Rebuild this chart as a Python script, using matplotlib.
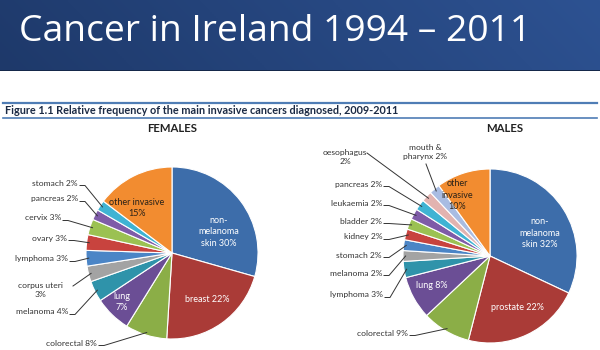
import numpy as np
import matplotlib
matplotlib.use("Agg")
import matplotlib.pyplot as plt
from matplotlib.patches import Rectangle

# ---------------- data ----------------
female_cats = ["non-melanoma skin", "breast", "colorectal", "lung", "melanoma",
               "corpus uteri", "lymphoma", "ovary", "cervix", "pancreas",
               "stomach", "other invasive"]
female_pct = [30, 22, 8, 7, 4, 3, 3, 3, 3, 2, 2, 15]

male_cats = ["non-melanoma skin", "prostate", "colorectal", "lung", "lymphoma",
             "melanoma", "stomach", "kidney", "bladder", "leukaemia", "pancreas",
             "oesophagus", "mouth & pharynx", "other invasive"]
male_pct = [32, 22, 9, 8, 3, 2, 2, 2, 2, 2, 2, 2, 2, 10]

title = "Cancer in Ireland 1994 \u2013 2011"
caption = "Figure 1.1 Relative frequency of the main invasive cancers diagnosed, 2009-2011"

# ---------------- styles ----------------
female_colors = ['#3D6DAA', '#AA3B37', '#8BAE47', '#6B4E95', '#2F93AA', '#A3A3A3',
                 '#4B85C6', '#C8433E', '#9BC152', '#7E5BA8', '#3FB3D3', '#F28C30']
male_colors = ['#3D6DAA', '#AA3B37', '#8BAE47', '#6B4E95', '#2F93AA', '#A3A3A3',
               '#4B85C6', '#C8433E', '#9BC152', '#7E5BA8', '#3FB3D3', '#E2B3B0',
               '#A9BCE2', '#F28C30']

LFONT = "Lato"
W, H = 600, 350

fig = plt.figure(figsize=(6, 3.5), dpi=100)
ax = fig.add_axes([0, 0, 1, 1])


def Y(py):
    return H - py


# ---------------- banner ----------------
gx = np.linspace(0, 1, 300)
gy = np.linspace(0, 1, 40)
GX, GY = np.meshgrid(gx, gy)
c0 = np.array([0x1E, 0x39, 0x6A]) / 255
c1 = np.array([0x2D, 0x52, 0x92]) / 255
t = np.clip(GX * 0.9 + 0.1 * (1 - GY), 0, 1)[..., None]
img = c0 * (1 - t) + c1 * t
ax.imshow(img, extent=(0, W, Y(70), Y(0)), aspect='auto', origin='upper', zorder=0)
ax.add_patch(Rectangle((0, Y(71)), W, 1.5, color='#15284A', zorder=1, lw=0))
ax.text(19, Y(32), title, color='white', fontsize=26.8, family='Open Sans',
        ha='left', va='center', zorder=2)

# ---------------- caption ----------------
ax.plot([3, 597], [Y(103), Y(103)], color='#4F7DB5', lw=1.6)
ax.plot([3, 597], [Y(118), Y(118)], color='#4F7DB5', lw=1.2)
ax.text(5, Y(110.5), caption, color='#1B2A44', fontsize=7.8, family=LFONT,
        fontweight='bold', ha='left', va='center')


def draw_pie(values, colors, center, radius, heading, hpos, inside, outside, fmt):
    cx, cy = center
    explode = [0.045] + [0] * (len(values) - 1)
    wedges, _ = ax.pie(values, colors=colors, startangle=90, counterclock=False,
                       center=(cx, Y(cy)), radius=radius, explode=explode,
                       wedgeprops=dict(edgecolor='white', linewidth=0.8), frame=True)
    ax.text(hpos[0], Y(hpos[1]), heading, fontsize=8.2, family=LFONT,
            fontweight='bold', color='#222222', ha='center', va='center')
    for w, cat, v in zip(wedges, fmt.keys(), values):
        label = fmt[cat].format(v)
        if cat in inside:
            x, y, col = inside[cat]
            ax.text(x, Y(y), label, fontsize=6.5, family=LFONT, color=col,
                    ha='center', va='center', linespacing=1.4)
        else:
            ha, x, y, sx, sy = outside[cat]
            ax.text(x, Y(y), label, fontsize=6.1, family=LFONT, color='#333333',
                    ha=ha, va='center', linespacing=1.3)
            th = np.deg2rad((w.theta1 + w.theta2) / 2)
            ex = w.center[0] + radius * 0.97 * np.cos(th)
            ey = w.center[1] + radius * 0.97 * np.sin(th)
            if sx is None:
                sx, sy = x + 2, y + 2.5
                pts = [(sx, Y(sy)), (sx + 5, Y(sy)), (ex, ey)]
            else:
                pts = [(sx, Y(sy)), (ex, ey)]
            xs, ys = zip(*pts)
            ax.plot(xs, ys, color='#333333', lw=0.7)


# ---------------- females ----------------
f_fmt = {
    "non-melanoma skin": "non-\nmelanoma\nskin {}%",
    "breast": "breast {}%",
    "colorectal": "colorectal {}%",
    "lung": "lung\n{}%",
    "melanoma": "melanoma {}%",
    "corpus uteri": "corpus uteri\n{}%",
    "lymphoma": "lymphoma {}%",
    "ovary": "ovary {}%",
    "cervix": "cervix {}%",
    "pancreas": "pancreas {}%",
    "stomach": "stomach {}%",
    "other invasive": "other invasive\n{}%",
}
f_inside = {
    "non-melanoma skin": (219, 232, 'white'),
    "breast": (207, 299, 'white'),
    "lung": (122, 302, 'white'),
    "other invasive": (137, 208, '#2A2218'),
}
f_outside = {
    "colorectal": ('right', 97, 343, None, None),
    "melanoma": ('right', 68, 312, None, None),
    "corpus uteri": ('center', 40, 290, 73, 286),
    "lymphoma": ('right', 68, 259, None, None),
    "ovary": ('right', 67, 238, None, None),
    "cervix": ('right', 61, 218, None, None),
    "pancreas": ('right', 78, 199, None, None),
    "stomach": ('right', 78, 183, None, None),
}
draw_pie(female_pct, female_colors, (172, 253), 86, "FEMALES", (172, 128),
         f_inside, f_outside, f_fmt)

# ---------------- males ----------------
m_fmt = {
    "non-melanoma skin": "non-\nmelanoma\nskin {}%",
    "prostate": "prostate {}%",
    "colorectal": "colorectal {}%",
    "lung": "lung {}%",
    "lymphoma": "lymphoma {}%",
    "melanoma": "melanoma {}%",
    "stomach": "stomach {}%",
    "kidney": "kidney {}%",
    "bladder": "bladder {}%",
    "leukaemia": "leukaemia {}%",
    "pancreas": "pancreas {}%",
    "oesophagus": "oesophagus\n{}%",
    "mouth & pharynx": "mouth &\npharynx {}%",
    "other invasive": "other\ninvasive\n{}%",
}
m_inside = {
    "non-melanoma skin": (540, 233, 'white'),
    "prostate": (517, 308, 'white'),
    "lung": (432, 285, 'white'),
    "other invasive": (457, 195, '#2A2218'),
}
m_outside = {
    "colorectal": ('right', 408, 333, None, None),
    "lymphoma": ('right', 383, 295, None, None),
    "melanoma": ('right', 382, 273, None, None),
    "stomach": ('right', 382, 255, None, None),
    "kidney": ('right', 382, 237, None, None),
    "bladder": ('right', 382, 221, None, None),
    "leukaemia": ('right', 382, 203, None, None),
    "pancreas": ('right', 382, 184, None, None),
    "oesophagus": ('center', 345, 157, 367, 153),
    "mouth & pharynx": ('center', 425, 152, 426, 164),
}
draw_pie(male_pct, male_colors, (490, 256), 87, "MALES", (505, 129),
         m_inside, m_outside, m_fmt)

ax.set_xlim(0, W)
ax.set_ylim(0, H)
ax.set_aspect('auto')
ax.axis('off')
fig.savefig("out.png", dpi=100)
